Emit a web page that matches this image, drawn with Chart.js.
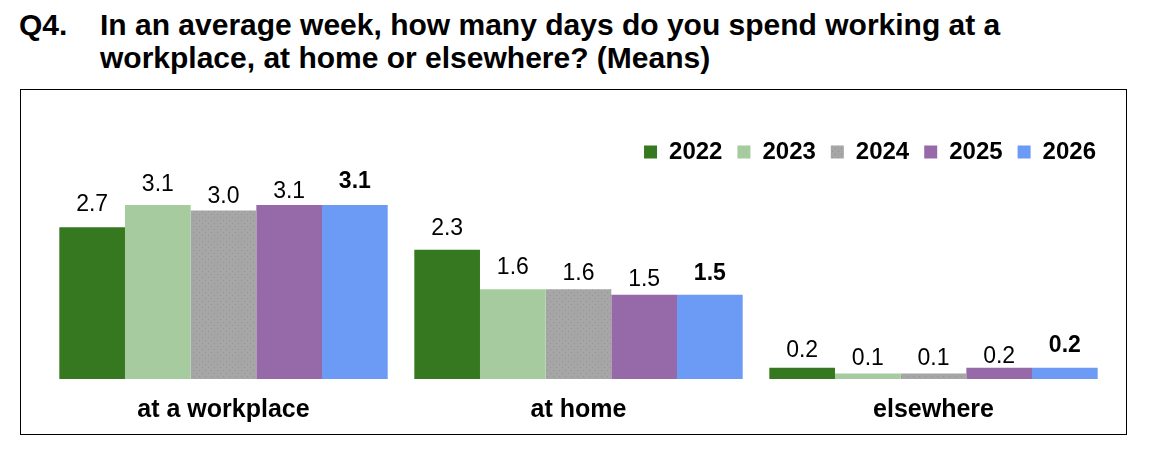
<!DOCTYPE html>
<html>
<head>
<meta charset="utf-8">
<script src="https://cdn.jsdelivr.net/npm/chart.js@4"></script>
<style>
body { margin: 0; background: #fff; font-family: "Liberation Sans", Arial, sans-serif; }
.title { position: absolute; top: 8px; font-weight: bold; font-size: 30px; line-height: 33px; color: #000; white-space: nowrap; }
#q { left: 19px; }
#t { left: 100px; }
.box { position: absolute; left: 20px; top: 89px; width: 1105px; height: 344px; border: 1px solid #000; }
canvas { display: block; }
</style>
</head>
<body>
<div class="title" id="q">Q4.</div>
<div class="title" id="t">In an average week, how many days do you spend working at a<br>workplace, at home or elsewhere? (Means)</div>
<div class="box"><canvas id="meansChart" width="1105" height="370"></canvas></div>
<script>
// data
const places = ['at a workplace', 'at home', 'elsewhere'];
const years = ['2022', '2023', '2024', '2025', '2026'];
const means2022 = [2.7, 2.3, 0.2];
const means2023 = [3.1, 1.6, 0.1];
const means2024 = [3.0, 1.6, 0.1];
const means2025 = [3.1, 1.5, 0.2];
const means2026 = [3.1, 1.5, 0.2];

const FONT = '"Liberation Sans", Arial, sans-serif';

// gray bars have a faint dotted fill
function dottedGray() {
    const c = document.createElement('canvas');
    c.width = 6; c.height = 6;
    const g = c.getContext('2d');
    g.fillStyle = '#A6A6A6';
    g.fillRect(0, 0, 6, 6);
    g.fillStyle = '#939393';
    g.fillRect(1, 1, 1, 1);
    g.fillRect(4, 4, 1, 1);
    return g.createPattern(c, 'repeat');
}

const colors = ['#36781F', '#A5CB9F', dottedGray(), '#9669A8', '#6B9BF5'];

// how far above each bar its label sits (per year, per place), like the original's staggering
const labelLift = [
    [16, 15, 11],
    [14, 15, 8],
    [8, 9, 8],
    [7, 9, 5],
    [17, 15, 16]
];

const valueLabels = {
    id: 'valueLabels',
    afterDatasetsDraw(chart) {
        const ctx = chart.ctx;
        chart.data.datasets.forEach((ds, i) => {
            chart.getDatasetMeta(i).data.forEach((bar, j) => {
                ctx.save();
                ctx.font = (i === 4 ? 'bold ' : '') + '23px ' + FONT;
                ctx.fillStyle = '#000';
                ctx.textAlign = 'center';
                ctx.textBaseline = 'alphabetic';
                ctx.fillText(ds.data[j].toFixed(1), bar.x, bar.y - labelLift[i][j]);
                ctx.restore();
            });
        });
    }
};

const series = [means2022, means2023, means2024, means2025, means2026];

const ctx = document.getElementById('meansChart').getContext('2d');
const meansChart = new Chart(ctx, {
    type: 'bar',
    data: {
        labels: places,
        datasets: years.map((y, i) => ({
            label: y,
            data: series[i],
            backgroundColor: colors[i],
            borderWidth: 0,
            categoryPercentage: 0.925,
            barPercentage: 1.0
        }))
    },
    options: {
        responsive: false,
        animation: false,
        layout: { padding: { top: 35, right: 15, bottom: 19, left: 25 } },
        plugins: {
            legend: {
                position: 'top',
                align: 'end',
                labels: {
                    boxWidth: 13,
                    boxHeight: 13,
                    padding: 15,
                    color: '#000',
                    font: { family: FONT, size: 24, weight: 'bold' }
                }
            },
            tooltip: { enabled: false }
        },
        scales: {
            x: {
                grid: { display: false, drawTicks: false },
                border: { display: false },
                ticks: {
                    color: '#000',
                    padding: 16,
                    font: { family: FONT, size: 25, weight: 'bold' }
                }
            },
            y: {
                display: false,
                min: 0,
                max: 3.65
            }
        }
    },
    plugins: [valueLabels]
});
</script>
</body>
</html>
